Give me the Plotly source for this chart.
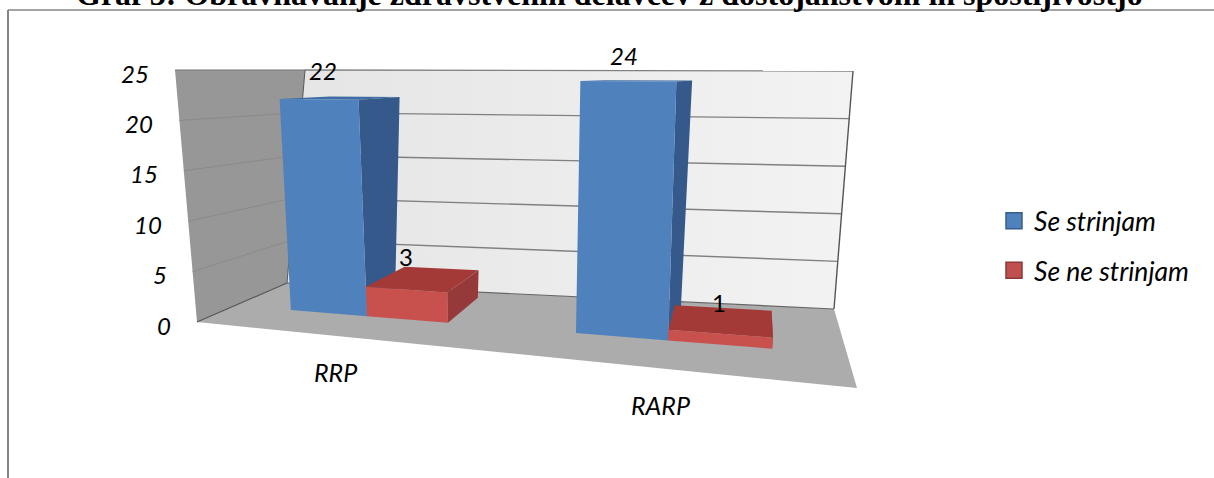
import plotly.graph_objects as go

# Survey answers per group of respondents
categories = ["RRP", "RARP"]
se_strinjam = [22, 24]
se_ne_strinjam = [3, 1]
value_ticks = [0, 5, 10, 15, 20, 25]
title_text = "Graf 3: Obravnavanje zdravstvenih delavcev z dostojanstvom in spoštljivostjo"

AXIS_MAX = 25

# Screen corners of the 3D chart box, (across, depth, height) -> pixel
BOX = {
    (0, 0, 0): (197, 322), (1, 0, 0): (857, 388),
    (0, 1, 0): (287, 283), (1, 1, 0): (834, 309),
    (0, 0, 1): (175, 70), (1, 0, 1): (880, 71),
    (0, 1, 1): (305, 70), (1, 1, 1): (853, 71),
}

# Bar footprints on the floor, as fractions of the box
BLUE_SPAN = [(0.0915, 0.2157), (0.557, 0.7075)]
RED_SPAN = [(0.2157, 0.348), (0.7075, 0.8775)]
D_FRONT = 0.42
D_BACK = [0.9, 0.8]
LEAN = [-0.4, -0.2]          # horizontal drift of a bar, px per value unit
BLUE_BACK_SHIFT = [(-0.006, -0.006), (0.015, 0.015)]
RED_BACK_SHIFT = [(0.01, 0.01), (0.004, 0.004)]


def project(u, d, v, lean=0.0):
    """Trilinear map of a point in the chart box to screen pixels."""
    w = v / AXIS_MAX
    x = y = 0.0
    for (a, b, c), (px, py) in BOX.items():
        f = (u if a else 1 - u) * (d if b else 1 - d) * (w if c else 1 - w)
        x += f * px
        y += f * py
    return x + lean * v, y


fig = go.Figure()


def polygon(points, fill, line=None, width=0, gradient=None):
    xs = [p[0] for p in points] + [points[0][0]]
    ys = [p[1] for p in points] + [points[0][1]]
    kw = {"fillgradient": gradient} if gradient else {"fillcolor": fill}
    fig.add_trace(go.Scatter(x=xs, y=ys, mode="lines", fill="toself", showlegend=False,
                             hoverinfo="skip", line=dict(color=line or fill, width=width), **kw))


def segment(p, q, color, width=1.0):
    fig.add_trace(go.Scatter(x=[p[0], q[0]], y=[p[1], q[1]], mode="lines", showlegend=False,
                             hoverinfo="skip", line=dict(color=color, width=width)))


# Floor and walls
polygon([project(0, 0, 0), project(1, 0, 0), project(1, 1, 0), project(0, 1, 0)], "#acacac")
polygon([project(0, 0, 0), project(0, 1, 0), project(0, 1, AXIS_MAX), project(0, 0, AXIS_MAX)], "#979797")
polygon([project(0, 1, 0), project(1, 1, 0), project(1, 1, AXIS_MAX), project(0, 1, AXIS_MAX)], "#ececec",
        gradient=dict(type="horizontal", colorscale=[[0, "#e5e5e5"], [1, "#f3f3f3"]]))

# Gridlines on both walls
for t in value_ticks[1:-1]:
    segment(project(0, 0, t), project(0, 1, t), "#8a8a8a", 1)
    segment(project(0, 1, t), project(1, 1, t), "#808080", 1.4)
segment(project(0, 0, AXIS_MAX), project(0, 1, AXIS_MAX), "#777777", 1.2)
segment(project(0, 1, AXIS_MAX), project(1, 1, AXIS_MAX), "#808080", 1.4)
segment(project(1, 1, AXIS_MAX), project(1, 1, 0), "#555555", 1.4)
segment(project(0, 1, 0), project(1, 1, 0), "#666666", 1.2)
segment(project(0, 0, 0), project(0, 1, 0), "#555555", 1.2)
segment(project(0, 1, 0), project(0, 1, AXIS_MAX), "#555555", 1)


def bar(span, shift, d_back, value, lean, front, side, top):
    u0, u1 = span
    b0, b1 = u0 + shift[0], u1 + shift[1]
    fb_l, fb_r = project(u0, D_FRONT, 0), project(u1, D_FRONT, 0)
    ft_l, ft_r = project(u0, D_FRONT, value, lean), project(u1, D_FRONT, value, lean)
    bb_r = project(b1, d_back, 0)
    bt_l, bt_r = project(b0, d_back, value, lean), project(b1, d_back, value, lean)
    polygon([ft_l, ft_r, bt_r, bt_l], top)
    polygon([fb_r, bb_r, bt_r, ft_r], side)
    polygon([fb_l, fb_r, ft_r, ft_l], front)
    return bt_r


BLUE = ("#4f81bd", "#35598a", "#3f6ca3")
RED = ("#c9514d", "#96393a", "#a33a37")
blue_tops, red_tops = [], []
for i in range(len(categories)):
    blue_tops.append(bar(BLUE_SPAN[i], BLUE_BACK_SHIFT[i], D_BACK[i], se_strinjam[i], LEAN[i], *BLUE))
    red_tops.append(bar(RED_SPAN[i], RED_BACK_SHIFT[i], D_BACK[i], se_ne_strinjam[i], LEAN[i], *RED))

# Legend entries
for name, color, edge in [("Se strinjam", "#4f81bd", "#385d8a"), ("Se ne strinjam", "#c0504d", "#8c3836")]:
    fig.add_trace(go.Scatter(x=[None], y=[None], mode="markers", name=name, legendgroup=name,
                             marker=dict(symbol="square", size=16, color=color, line=dict(color=edge, width=1.5))))

annotations = []


def label(x, y, text, size=24, italic=True, xanchor="center", family="Lato", yshift=0):
    shown = f"<i>{text}</i>" if italic else text
    annotations.append(dict(x=x, y=y, text=shown, showarrow=False, xanchor=xanchor, yanchor="middle",
                            yshift=yshift, font=dict(family=family, size=size, color="black"),
                            xref="x", yref="y"))


# Value axis labels follow the front edge of the side wall
for t in value_ticks:
    ex, ey = project(0, 0, t)
    label(ex - 24, ey + 3, str(t), xanchor="right")

# Category labels below the floor
label(335, 372, categories[0], size=25)
label(660, 405, categories[1], size=25)

# Data labels relative to the back corner of each bar
for top, val, off, it in [
    (blue_tops[0], se_strinjam[0], (-77, -26), True),
    (blue_tops[1], se_strinjam[1], (-68, -25), True),
    (red_tops[0], se_ne_strinjam[0], (-73, -14), False),
    (red_tops[1], se_ne_strinjam[1], (-53, -8), False),
]:
    label(top[0] + off[0], top[1] + off[1], str(val), italic=it)

# The heading sits on the top edge of the page
label(609, 0, f"<b>{title_text}</b>", size=32, italic=False, family="Liberation Serif", yshift=6.5)

fig.update_layout(
    width=1214, height=478, margin=dict(l=0, r=0, t=0, b=0, pad=0),
    paper_bgcolor="white", plot_bgcolor="white",
    xaxis=dict(range=[0, 1214], visible=False, fixedrange=True),
    yaxis=dict(range=[478, 0], visible=False, fixedrange=True),
    annotations=annotations,
    showlegend=True,
    legend=dict(x=994 / 1214, y=1 - 197 / 478, xanchor="left", yanchor="top", tracegroupgap=12,
                font=dict(family="Lato", size=26.5, color="black", style="italic"),
                bgcolor="rgba(0,0,0,0)", itemclick=False, itemdoubleclick=False),
    shapes=[
        dict(type="line", xref="x", yref="y", x0=8, x1=8, y0=10, y1=478, line=dict(color="#868686", width=2)),
        dict(type="line", xref="x", yref="y", x0=8, x1=1214, y0=10, y1=10, line=dict(color="#868686", width=1.5)),
    ],
)

fig.write_html("out.html")
